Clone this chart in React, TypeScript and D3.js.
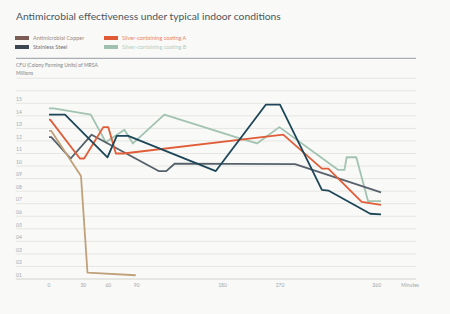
import React from 'react'
import * as d3 from 'd3'

// minutes on the x axis, CFU in millions on the y axis
const minuteTicks = [0, 30, 60, 90, 180, 270, 360]
const valueTicks = d3.range(1, 16)

const copper: [number, number][] = [[0, 12.8], [2, 12.8], [28, 9.2], [35, 1.5], [89, 1.3]]
const steelDark: [number, number][] = [
  [0, 14.1], [14, 14.1], [59, 10.7], [69, 12.4], [81, 12.4], [173, 9.6],
  [248, 14.9], [270, 14.9], [309, 8.1], [315, 8.05], [354, 6.2], [364, 6.15],
]
const steelGrey: [number, number][] = [
  [0, 12.3], [2, 12.3], [19, 10.6], [40, 12.5], [113, 9.6], [121, 9.6],
  [130, 10.2], [284, 10.15], [364, 7.9],
]
const coatingA: [number, number][] = [
  [0, 13.7], [1, 13.7], [27, 10.6], [31, 10.6], [54, 13.1], [60, 13.1],
  [68, 11.0], [76, 11.0], [273, 12.5], [309, 9.8], [315, 9.8], [346, 7.15], [364, 6.9],
]
const coatingB: [number, number][] = [
  [0, 14.6], [4, 14.6], [39, 14.1], [57, 11.9], [77, 12.9], [86, 11.8],
  [119, 14.1], [207, 12.2], [234, 11.8], [269, 13.1], [324, 9.7], [330, 9.7],
  [332, 10.7], [341, 10.7], [352, 7.2], [364, 7.2],
]

const legendLabels = ['Antimicrobial Copper', 'Stainless Steel', 'Silver-containing coating A', 'Silver-containing coating B']
const legendSwatch = ['#7b5d55', '#3c4752', '#e05a37', '#9fc1ae']
const legendText = ['#9a8882', '#6c737a', '#e98466', '#b3cdbf']

const App = () => {
  const svgRef = React.useRef<SVGSVGElement>(null)

  React.useEffect(() => {
    const width = 450
    const height = 314
    const svg = d3.select(svgRef.current)
    svg.selectAll('*').remove()
    svg.attr('width', width).attr('height', height)

    svg.append('rect').attr('width', width).attr('height', height).attr('fill', '#f9f9f7')

    const font = 'Lato, "Open Sans", sans-serif'

    svg.append('text')
      .attr('x', 16)
      .attr('y', 20)
      .attr('font-family', font)
      .attr('font-size', 10.3)
      .attr('fill', '#4b5660')
      .text('Antimicrobial effectiveness under typical indoor conditions')

    // legend, two columns
    const legend = svg.selectAll('.legend')
      .data(legendLabels)
      .enter()
      .append('g')
      .attr('class', 'legend')
      .attr('transform', (d, i) => 'translate(' + (i < 2 ? 15 : 104) + ',' + (i % 2 == 0 ? 36 : 45) + ')')

    legend.append('rect')
      .attr('width', 14)
      .attr('height', 4)
      .attr('fill', (d, i) => legendSwatch[i])

    legend.append('text')
      .attr('x', 18)
      .attr('y', 2)
      .attr('dy', '0.35em')
      .attr('font-family', font)
      .attr('font-size', 5.5)
      .attr('fill', (d, i) => legendText[i])
      .text(d => d)

    svg.append('line')
      .attr('x1', 16).attr('x2', 416)
      .attr('y1', 58.3).attr('y2', 58.3)
      .attr('stroke', '#959ca3')
      .attr('stroke-width', 1)

    svg.append('text')
      .attr('x', 16).attr('y', 65.7).attr('dy', '0.35em')
      .attr('font-family', font).attr('font-size', 5)
      .attr('fill', '#80868c')
      .text('CFU (Colony Forming Units) of MRSA')
    svg.append('text')
      .attr('x', 16).attr('y', 73.3).attr('dy', '0.35em')
      .attr('font-family', font).attr('font-size', 5)
      .attr('fill', '#80868c')
      .text('Millions')

    // uneven spacing between the minute ticks
    const xScale = d3.scaleLinear()
      .domain(minuteTicks)
      .range([49, 83.3, 108.3, 136.7, 222.5, 280, 376.7])

    const yScale = d3.scaleLinear()
      .domain([1, 17])
      .range([279, 78.2])

    // gridlines, with the labels sitting on top of them
    const grid = svg.append('g')
    grid.selectAll('line')
      .data(d3.range(2, 18))
      .enter()
      .append('line')
      .attr('x1', 16).attr('x2', 416)
      .attr('y1', d => yScale(d)).attr('y2', d => yScale(d))
      .attr('stroke', '#e5e5e2')
      .attr('stroke-width', 1)

    svg.append('line')
      .attr('x1', 16).attr('x2', 416)
      .attr('y1', yScale(1)).attr('y2', yScale(1))
      .attr('stroke', '#dededb')
      .attr('stroke-width', 1.4)

    svg.selectAll('.y-label')
      .data(valueTicks)
      .enter()
      .append('text')
      .attr('class', 'y-label')
      .attr('x', 16)
      .attr('y', d => yScale(d) - 4)
      .attr('dy', '0.35em')
      .attr('font-family', font)
      .attr('font-size', 5)
      .attr('fill', '#a3a7ab')
      .text(d => d3.format('02d')(d))

    svg.selectAll('.x-label')
      .data(minuteTicks)
      .enter()
      .append('text')
      .attr('class', 'x-label')
      .attr('x', d => xScale(d))
      .attr('y', 285)
      .attr('dy', '0.35em')
      .attr('text-anchor', 'middle')
      .attr('font-family', font)
      .attr('font-size', 5)
      .attr('fill', '#a3a7ab')
      .text(d => d)

    svg.append('text')
      .attr('x', 410).attr('y', 285).attr('dy', '0.35em')
      .attr('text-anchor', 'middle')
      .attr('font-family', font).attr('font-size', 5)
      .attr('fill', '#a3a7ab')
      .text('Minutes')

    const line = d3.line<[number, number]>()
      .x(d => xScale(d[0]))
      .y(d => yScale(d[1]))

    const series = [
      { data: coatingB, color: '#a2c3b1' },
      { data: steelGrey, color: '#56616b' },
      { data: coatingA, color: '#e05d39' },
      { data: steelDark, color: '#1d4658' },
      { data: copper, color: '#c0a17a' },
    ]

    svg.selectAll('.series')
      .data(series)
      .enter()
      .append('path')
      .attr('class', 'series')
      .attr('d', d => line(d.data))
      .attr('fill', 'none')
      .attr('stroke', d => d.color)
      .attr('stroke-width', 1.8)
      .attr('stroke-linejoin', 'round')
  }, [])

  return (
    <div style={{ position: 'absolute', left: 0, top: 0, width: 450, height: 314 }}>
      <svg ref={svgRef} width={450} height={314} style={{ display: 'block' }}></svg>
    </div>
  )
}

export default App
